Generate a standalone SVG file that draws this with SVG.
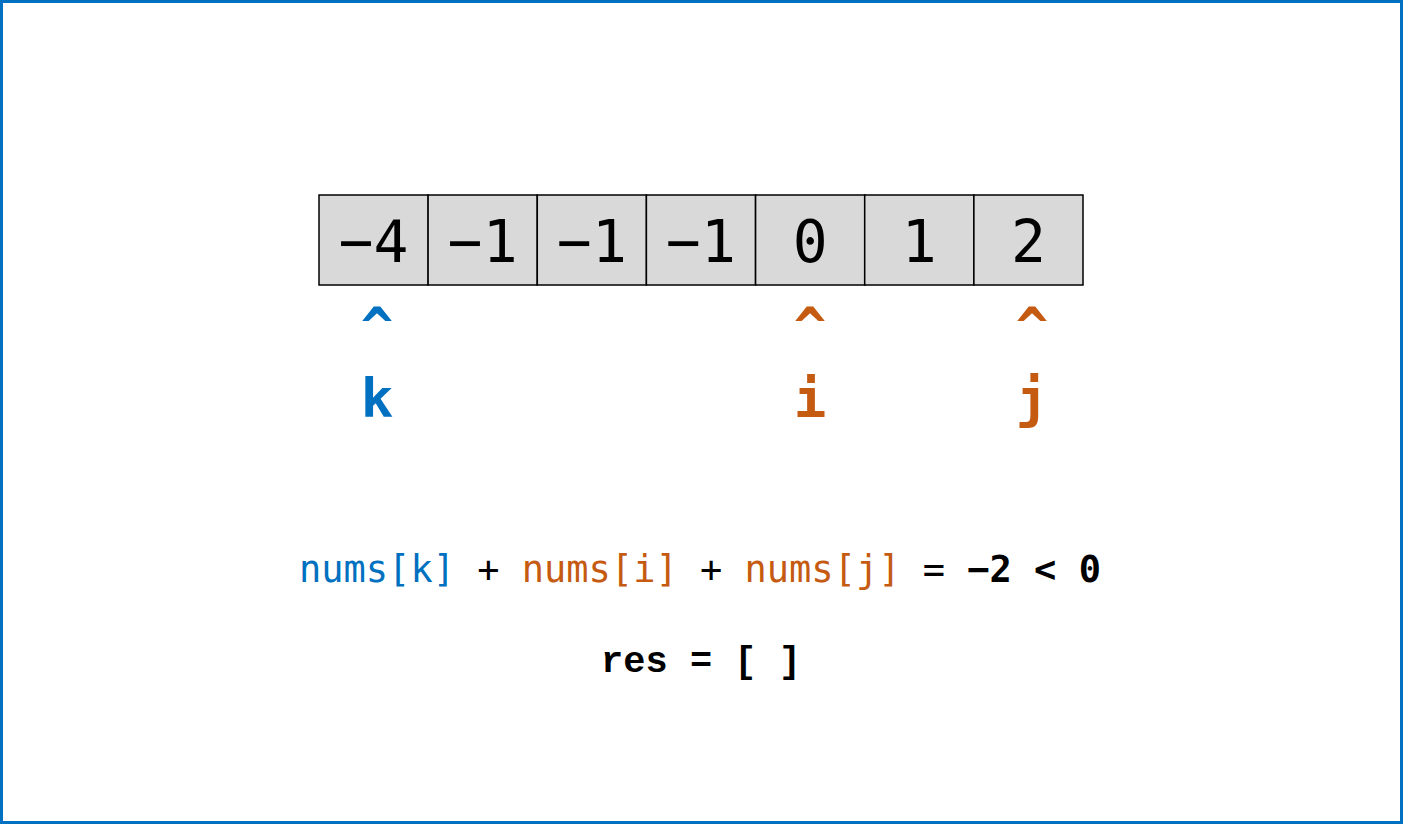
<svg xmlns="http://www.w3.org/2000/svg" width="1403" height="824" viewBox="0 0 1403 824">
<style>
.cell{fill:#D9D9D9;stroke:#000;stroke-width:1.5}
.num{font-family:"DejaVu Sans Mono","Liberation Mono",monospace;font-size:58px;fill:#000;text-anchor:middle}
.ptr{font-family:"DejaVu Sans Mono","Liberation Mono",monospace;font-size:54px;font-weight:bold;text-anchor:middle}
.blue{fill:#0070C0}
.orange{fill:#C55A11}
.eq{font-family:"DejaVu Sans Mono","Liberation Mono",monospace;font-size:37px}
.res{font-family:"Liberation Mono","Courier New",monospace;font-size:37px;font-weight:bold;fill:#000}
</style>
<rect x="1.5" y="1.5" width="1400" height="821" fill="#fff" stroke="#0070C0" stroke-width="3"/>
<g id="array">
<g id="cell0"><rect class="cell" x="319" y="195" width="109.1" height="90"/><text class="num" x="373.6" y="262">−4</text></g>
<g id="cell1"><rect class="cell" x="428.1" y="195" width="109.1" height="90"/><text class="num" x="482.7" y="262">−1</text></g>
<g id="cell2"><rect class="cell" x="537.3" y="195" width="109.1" height="90"/><text class="num" x="591.9" y="262">−1</text></g>
<g id="cell3"><rect class="cell" x="646.4" y="195" width="109.1" height="90"/><text class="num" x="701" y="262">−1</text></g>
<g id="cell4"><rect class="cell" x="755.6" y="195" width="109.1" height="90"/><text class="num" x="810.1" y="262">0</text></g>
<g id="cell5"><rect class="cell" x="864.7" y="195" width="109.1" height="90"/><text class="num" x="919.3" y="262">1</text></g>
<g id="cell6"><rect class="cell" x="973.9" y="195" width="109.1" height="90"/><text class="num" x="1028.4" y="262">2</text></g>
</g>
<g id="pointer-k"><text class="ptr blue" x="377" y="345">^</text><text class="ptr blue" x="377" y="417">k</text></g>
<g id="pointer-i"><text class="ptr orange" x="810" y="345">^</text><text class="ptr orange" x="810" y="417">i</text></g>
<g id="pointer-j"><text class="ptr orange" x="1032" y="345">^</text><text class="ptr orange" x="1032" y="417">j</text></g>
<g id="connectors"></g>
<g id="equation">
<text class="eq" x="299" y="582" xml:space="preserve"><tspan class="blue">nums[k]</tspan><tspan fill="#000"> + </tspan><tspan class="orange">nums[i]</tspan><tspan fill="#000"> + </tspan><tspan class="orange">nums[j]</tspan><tspan fill="#000"> = </tspan><tspan fill="#000" font-weight="bold">−2 &lt; 0</tspan></text>
</g>
<g id="result"><text class="res" x="701" y="672" text-anchor="middle" xml:space="preserve">res = [ ]</text></g>
</svg>
